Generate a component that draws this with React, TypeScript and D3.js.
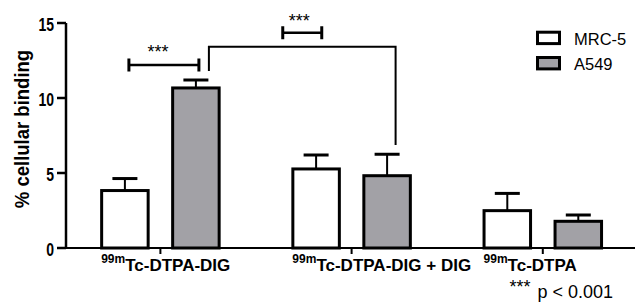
import * as d3 from 'd3'

// bar chart data
const groupSup = ['99m', '99m', '99m']
const groupNames = ['Tc-DTPA-DIG', 'Tc-DTPA-DIG + DIG', 'Tc-DTPA']
const seriesNames = ['MRC-5', 'A549']
const mrc5 = [3.83, 5.27, 2.49]
const mrc5Err = [0.8, 0.93, 1.15]
const a549 = [10.67, 4.82, 1.78]
const a549Err = [0.53, 1.43, 0.42]
const yTicks = [0, 5, 10, 15]
const starLabel = '***'
const pLabel = 'p < 0.001'

const W = 635
const H = 302
const font = '"Liberation Sans", Arial, Helvetica, sans-serif'
const gray = '#a2a1a6'

function App() {
    const y = d3.scaleLinear().domain([0, 15]).range([248, 23])
    const x0 = d3.scaleBand().domain(groupNames).range([64.8, 638.4])
    const inner = d3
        .scaleBand()
        .domain(seriesNames)
        .range([x0.bandwidth() / 2 - 58.75, x0.bandwidth() / 2 + 58.75])
        .paddingInner(0.345)

    const values = [mrc5, a549]
    const errs = [mrc5Err, a549Err]
    const fills = ['#ffffff', gray]

    const barCenter = (g: number, s: number) =>
        (x0(groupNames[g]) as number) + (inner(seriesNames[s]) as number) + inner.bandwidth() / 2

    // significance brackets
    const b1x1 = barCenter(0, 0) + 4
    const b1x2 = barCenter(0, 1) + 3
    const b1y = y(12.2)
    const bigX1 = barCenter(0, 1) + 13
    const bigX2 = barCenter(1, 1) + 8.5
    const bigY = y(13.42)
    const bigMid = (bigX1 + bigX2) / 2
    const b2y = y(14.35)

    return (
        <svg
            width={W}
            height={H}
            style={{ position: 'absolute', left: 0, top: 0, background: '#fff' }}
            fontFamily={font}
        >
            {/* bars */}
            {groupNames.map((g, gi) =>
                seriesNames.map((s, si) => {
                    const bx = (x0(g) as number) + (inner(s) as number)
                    const v = values[si][gi]
                    const cx = bx + inner.bandwidth() / 2
                    const top = y(v + errs[si][gi])
                    return (
                        <g key={g + s}>
                            <line x1={cx} x2={cx} y1={y(v)} y2={top} stroke="#000" strokeWidth={2} />
                            <line x1={cx - 12.5} x2={cx + 12.5} y1={top} y2={top} stroke="#000" strokeWidth={3} />
                            <rect
                                x={bx}
                                y={y(v)}
                                width={inner.bandwidth()}
                                height={y(0) - y(v)}
                                fill={fills[si]}
                                stroke="#000"
                                strokeWidth={3}
                            />
                        </g>
                    )
                })
            )}

            {/* y axis */}
            <line x1={66} x2={66} y1={y(15)} y2={y(0) + 1} stroke="#000" strokeWidth={2.5} />
            {yTicks.map((t) => (
                <g key={t}>
                    <line x1={57} x2={66} y1={y(t)} y2={y(t)} stroke="#000" strokeWidth={2.5} />
                    <text
                        transform={`translate(54,${y(t) + 7.5}) scale(1,1.25)`}
                        textAnchor="end"
                        fontSize={14}
                        fontWeight="bold"
                    >
                        {t}
                    </text>
                </g>
            ))}
            <text
                transform={`translate(29,129) rotate(-90) scale(1,1.08)`}
                textAnchor="middle"
                fontSize={18.5}
                fontWeight="bold"
            >
                % cellular binding
            </text>

            {/* x axis */}
            <line x1={65} x2={W} y1={y(0)} y2={y(0)} stroke="#000" strokeWidth={2} />
            {groupNames.map((g, gi) => {
                const c = (x0(g) as number) + x0.bandwidth() / 2
                const lx = (x0(g) as number) + (inner(seriesNames[0]) as number) - 0.5
                return (
                    <g key={g}>
                        <line x1={c} x2={c} y1={y(0)} y2={y(0) + 6} stroke="#000" strokeWidth={2} />
                        <text x={lx} y={270.6} fontWeight="bold">
                            <tspan fontSize={12} dy={-8}>
                                {groupSup[gi]}
                            </tspan>
                            <tspan fontSize={17} dy={8}>
                                {g}
                            </tspan>
                        </text>
                    </g>
                )
            })}

            {/* brackets */}
            <g stroke="#000" fill="none">
                <line x1={b1x1} x2={b1x2} y1={b1y} y2={b1y} strokeWidth={2.5} />
                <line x1={b1x1} x2={b1x1} y1={b1y - 6.5} y2={b1y + 6.5} strokeWidth={3} />
                <line x1={b1x2} x2={b1x2} y1={b1y - 6.5} y2={b1y + 6.5} strokeWidth={3} />
                <path d={`M${bigX1},${y(11.8)}V${bigY}H${bigX2}V${y(6.87)}`} strokeWidth={2} />
                <line x1={bigMid - 19.5} x2={bigMid + 19.5} y1={b2y} y2={b2y} strokeWidth={2.5} />
                <line x1={bigMid - 19.5} x2={bigMid - 19.5} y1={b2y - 6.5} y2={b2y + 6.5} strokeWidth={3} />
                <line x1={bigMid + 19.5} x2={bigMid + 19.5} y1={b2y - 6.5} y2={b2y + 6.5} strokeWidth={3} />
            </g>
            <text x={(b1x1 + b1x2) / 2 - 6} y={b1y - 7} textAnchor="middle" fontSize={18}>
                {starLabel}
            </text>
            <text x={bigMid - 3} y={b2y - 6} textAnchor="middle" fontSize={18}>
                {starLabel}
            </text>

            {/* legend */}
            {seriesNames.map((s, si) => (
                <g key={s}>
                    <rect
                        x={537.5}
                        y={32.2 + si * 25.3}
                        width={22}
                        height={11.4}
                        fill={fills[si]}
                        stroke="#000"
                        strokeWidth={3}
                    />
                    <text x={574} y={44.8 + si * 25.3} fontSize={16.5}>
                        {s}
                    </text>
                </g>
            ))}

            {/* footnote */}
            <text x={509.5} y={292.5} fontSize={18}>
                {starLabel}
            </text>
            <text x={537.5} y={297.5} fontSize={18}>
                {pLabel}
            </text>
        </svg>
    )
}

export default App
